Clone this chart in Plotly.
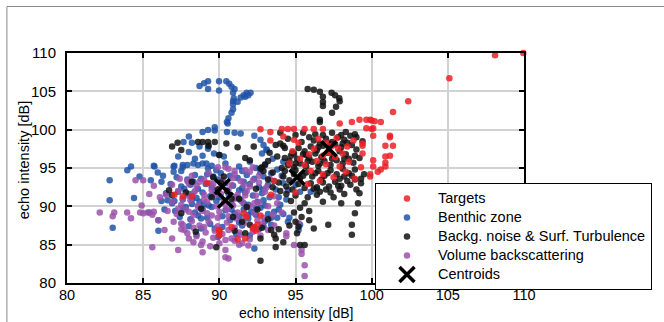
import plotly.graph_objects as go

# ---------------- data ----------------
targets_pts = [
    (109.95, 110.0), (108.1, 109.7), (105.1, 106.7), (102.4, 103.7), (101.4, 102.3),
    (97.9, 100.8), (98.7, 101.0), (99.2, 101.3), (99.65, 101.3), (99.9, 101.3), (100.0, 101.2),
    (100.2, 101.1), (100.6, 101.0), (99.65, 100.2), (100.0, 100.1), (100.1, 100.2), (100.1, 99.2),
    (101.2, 99.2), (101.2, 99.0),
    (99.4, 98.2), (99.4, 97.9), (99.4, 96.9), (100.9, 97.9), (101.4, 97.9), (100.9, 96.5),
    (101.2, 96.6), (100.1, 96.0), (100.9, 95.7), (100.9, 95.2), (100.1, 95.2), (100.6, 94.8),
    (100.4, 94.5), (99.9, 94.2), (99.9, 93.9),
    (92.7, 100.05), (93.35, 99.7), (94.1, 100.1), (94.5, 100.1), (94.9, 100.1), (95.6, 100.1),
    (96.2, 100.1), (96.8, 100.1), (94.9, 98.7), (94.2, 99.1), (93.35, 98.6),
    (96.5, 98.8), (97.0, 98.3), (97.4, 97.9), (97.8, 97.5), (97.2, 97.0), (96.8, 96.6),
    (97.6, 96.4), (98.1, 96.9), (98.4, 97.8), (96.2, 97.5), (95.9, 96.8), (96.4, 95.9),
    (97.0, 95.5), (97.9, 95.2), (98.5, 95.8), (95.6, 95.4), (96.0, 94.6), (96.8, 94.2),
    (97.5, 93.8), (98.3, 94.5), (95.3, 96.2), (94.8, 97.2), (95.2, 98.3), (97.7, 98.9),
    (98.8, 98.6), (96.6, 93.3), (95.8, 92.9), (94.6, 95.6), (98.9, 93.6), (99.3, 95.1),
    (90.0, 86.7), (90.0, 86.2), (91.2, 85.7), (91.7, 85.8), (92.2, 87.1), (92.4, 86.8),
    (92.5, 87.6), (91.6, 89.1), (92.7, 88.8), (87.05, 91.5), (87.6, 91.3), (88.2, 91.3),
    (91.8, 88.6), (92.3, 87.3), (90.8, 87.3), (90.0, 86.9), (93.4, 91.5), (89.2, 93.0),
    (93.6, 93.3), (95.0, 91.8),
]

benthic_pts = [
    (88.7, 105.7), (89.0, 106.05), (89.26, 106.3), (89.26, 105.3), (89.98, 106.3), (89.98, 105.1),
    (90.46, 106.3), (90.65, 106.0), (90.8, 105.6), (91.0, 105.3), (90.9, 104.8), (90.95, 104.1),
    (90.9, 103.7), (90.9, 103.3), (90.9, 102.65), (90.8, 102.2), (90.6, 101.5), (90.5, 101.0),
    (90.55, 100.8), (91.2, 103.65), (91.4, 104.2), (91.6, 104.5), (91.8, 104.8), (92.05, 104.8),
    (91.7, 104.3), (91.9, 104.5),
    (89.7, 100.3), (89.7, 99.9), (89.26, 99.96), (88.9, 99.7), (90.5, 99.7), (91.0, 99.6),
    (91.4, 99.5), (92.3, 99.2), (92.7, 98.7), (92.9, 98.0), (93.1, 97.4), (88.0, 99.1),
    (87.65, 98.4), (88.2, 98.3), (88.7, 97.8), (89.26, 97.8), (89.26, 97.5), (89.65, 96.9),
    (90.0, 96.7), (90.3, 96.5), (88.9, 95.6), (88.6, 95.4), (88.3, 95.6), (89.15, 95.6),
    (89.26, 94.95), (87.9, 95.4), (87.6, 95.1), (87.0, 95.2), (87.0, 94.5), (87.5, 94.6),
    (85.74, 95.2), (85.96, 94.4), (84.2, 95.2), (83.96, 94.7), (84.76, 93.9), (82.8, 93.4),
    (82.8, 90.8), (83.0, 87.2), (84.4, 91.1), (85.7, 95.3), (86.2, 93.2), (85.4, 89.2),
    (86.0, 88.2), (86.0, 86.8), (86.2, 90.7), (86.6, 90.8), (87.05, 90.7), (87.05, 95.3),
    (87.6, 95.4), (93.1, 97.35), (92.8, 96.9), (93.5, 96.2), (93.0, 95.5), (94.2, 95.8),
    (92.4, 95.0),
    (92.3, 84.5), (95.2, 86.9), (95.3, 87.6), (94.5, 88.0), (93.8, 88.5), (94.5, 92.1),
    (95.3, 91.9), (96.0, 91.9), (96.4, 92.3), (95.0, 92.8), (94.0, 90.2), (93.6, 89.3),
    (94.2, 89.0),
    (87.2, 93.8), (87.9, 93.5), (88.4, 94.1), (88.8, 93.6), (89.2, 94.2), (89.6, 93.9),
    (90.1, 94.3), (90.7, 94.0), (91.2, 93.7), (91.8, 94.1), (92.3, 93.6), (92.9, 93.9),
    (93.4, 94.3), (86.8, 92.9), (87.5, 92.6), (88.1, 92.8), (88.6, 92.3), (89.1, 92.9),
    (89.5, 92.5), (90.9, 92.7), (91.5, 92.4), (92.0, 92.9), (92.6, 92.5), (93.2, 92.8),
    (93.7, 92.2), (86.5, 91.7), (87.3, 91.9), (88.0, 91.6), (88.5, 91.1), (88.9, 91.8),
    (89.4, 91.3), (90.6, 91.6), (91.1, 91.2), (91.7, 91.8), (92.2, 91.4), (92.8, 91.7),
    (93.3, 91.2), (86.9, 90.4), (87.6, 90.9), (88.2, 90.3), (88.7, 90.6), (89.3, 90.1),
    (89.8, 90.7), (90.8, 90.3), (91.4, 90.8), (91.9, 90.2), (92.5, 90.6), (93.0, 90.1),
    (86.4, 89.6), (87.1, 89.4), (87.8, 89.9), (88.4, 89.2), (88.9, 89.7), (90.4, 89.5),
    (91.0, 89.1), (91.6, 89.6), (92.1, 89.3), (92.7, 89.8), (93.2, 89.0), (87.4, 88.6),
    (88.1, 88.3), (88.6, 88.8), (89.2, 88.5), (90.7, 88.2), (91.3, 88.7), (91.9, 88.4),
    (92.4, 88.9), (93.0, 88.1), (88.0, 87.4), (88.8, 87.1), (89.4, 87.7), (90.2, 87.3),
    (91.5, 87.5), (92.6, 87.0), (93.4, 87.6), (88.5, 86.3), (89.9, 86.0), (91.1, 86.4),
    (92.0, 86.2), (94.6, 88.5), (93.9, 89.6), (94.4, 90.9), (93.6, 93.3), (94.1, 94.0),
    (88.9, 96.6), (88.4, 96.2), (89.5, 95.3), (90.4, 95.6), (91.3, 95.2), (92.0, 95.8),
    (85.5, 93.4), (86.3, 94.0), (87.3, 96.5), (88.0, 97.1),
    (88.3, 93.2), (89.9, 93.5), (90.4, 93.0), (91.6, 93.2), (92.7, 94.4), (87.7, 92.3),
    (89.7, 91.9), (91.3, 92.1), (92.9, 92.2), (88.2, 90.9), (89.0, 90.3), (90.0, 91.2),
    (91.6, 90.4), (92.9, 90.8), (87.6, 89.8), (89.5, 89.9), (90.8, 89.6), (92.4, 89.7),
    (88.8, 88.4), (90.2, 88.7), (91.9, 88.9), (93.4, 88.5), (89.7, 87.1), (91.3, 87.9),
    (92.9, 87.4), (93.9, 91.2), (94.2, 93.0), (93.8, 94.8), (89.8, 94.7), (91.5, 94.6),
]

backg_pts = [
    (95.8, 105.3), (96.2, 105.2), (96.6, 104.95), (96.8, 104.3), (96.8, 103.6), (96.8, 103.1),
    (96.6, 101.3), (96.6, 101.0), (97.37, 104.8), (97.6, 104.5), (97.87, 104.1), (97.9, 103.7),
    (97.66, 103.0), (97.4, 102.2),
    (86.9, 97.8), (87.26, 98.3), (87.5, 97.35), (88.6, 98.4), (88.9, 98.4), (89.26, 98.4),
    (89.7, 98.4), (89.3, 97.9), (90.46, 98.2), (91.2, 97.7), (90.0, 96.7), (91.7, 96.3),
    (92.0, 96.0), (92.26, 97.8), (92.7, 94.95), (93.0, 95.4), (93.2, 95.9), (93.7, 98.0),
    (94.0, 98.2), (94.3, 97.6), (94.8, 97.0),
    (86.7, 92.1), (86.9, 91.45), (87.5, 89.1), (88.45, 86.7), (89.8, 84.65), (88.8, 89.7),
    (89.5, 91.2), (91.7, 86.5), (92.7, 85.8), (92.7, 82.9), (93.7, 85.8), (93.6, 86.3),
    (93.4, 86.9), (90.9, 88.6), (91.8, 89.9), (92.4, 92.3), (90.1, 93.1), (89.6, 93.8),
    (88.2, 93.2), (87.8, 91.8), (91.3, 91.0),
    (90.5, 92.0), (90.8, 91.0), (91.5, 88.0), (92.0, 87.6), (92.8, 87.2), (93.2, 88.3),
    (93.9, 87.0), (92.5, 89.6), (91.0, 86.8), (93.7, 84.7), (94.2, 85.3), (90.3, 93.9),
    (89.9, 92.2),
    (95.3, 84.96), (95.6, 84.96), (95.2, 87.35), (95.0, 88.0), (95.4, 88.6), (94.9, 89.2),
    (95.3, 89.8), (95.6, 90.4), (94.7, 90.7), (95.1, 86.5), (94.6, 87.5), (96.2, 87.1),
    (95.9, 88.2), (95.9, 89.4),
    (97.15, 87.6), (98.0, 90.4), (98.7, 87.6), (98.7, 86.3), (98.9, 89.1), (99.1, 90.4),
    (99.2, 91.7), (99.3, 93.0), (99.3, 93.6), (98.2, 93.9), (98.6, 92.8), (97.5, 91.2),
    (96.8, 90.6), (96.4, 91.5), (97.9, 92.2),
    (94.2, 93.9), (94.6, 93.4), (94.9, 94.2), (95.3, 93.7), (95.7, 94.4), (96.1, 93.9),
    (96.5, 94.6), (96.9, 94.0), (97.3, 94.7), (97.7, 94.2), (98.1, 94.9), (98.5, 94.3),
    (98.9, 94.8), (94.4, 92.6), (94.8, 92.2), (95.2, 92.9), (95.6, 92.4), (96.0, 93.0),
    (96.4, 92.5), (96.8, 93.1), (97.2, 92.6), (97.6, 93.2), (98.0, 92.7), (98.4, 93.3),
    (94.1, 95.0), (94.5, 95.4), (94.9, 95.1), (95.3, 95.6), (95.7, 95.2), (96.1, 95.8),
    (96.5, 95.3), (96.9, 95.9), (97.3, 95.4), (97.7, 96.0), (98.1, 95.6), (98.5, 96.2),
    (94.3, 96.3), (94.7, 96.6), (95.1, 96.2), (95.5, 96.8), (95.9, 96.3), (96.3, 96.9),
    (96.7, 96.4), (97.1, 97.0), (97.5, 96.6), (97.9, 97.2), (98.3, 96.8), (95.2, 97.6),
    (95.6, 97.2), (96.0, 97.8), (96.4, 97.3), (96.8, 97.9), (97.2, 97.5), (97.6, 98.1),
    (98.0, 97.7), (98.4, 98.3), (96.2, 98.6), (96.6, 98.2), (97.0, 98.8), (97.4, 98.4),
    (97.8, 99.0), (98.2, 98.7), (98.6, 99.2), (98.9, 99.4), (98.0, 99.3), (95.9, 99.0),
    (94.5, 98.8), (95.0, 99.3), (94.3, 94.6), (93.9, 93.1), (93.5, 94.4), (93.8, 96.5),
    (98.8, 95.7), (99.2, 96.3), (99.0, 97.4), (98.7, 98.0), (99.5, 94.2), (98.9, 93.5),
    (94.0, 92.0), (94.4, 91.6), (95.0, 91.4), (95.8, 91.2), (96.6, 91.9), (97.3, 91.8),
    (98.2, 91.6), (99.0, 92.2), (94.2, 97.9), (95.4, 98.4), (96.8, 99.3), (97.4, 99.6),
    (98.3, 99.7), (95.0, 94.7), (95.5, 94.0), (96.3, 94.3), (96.7, 93.5), (97.1, 94.3),
    (97.9, 93.6), (98.7, 94.0), (94.6, 95.9), (95.0, 95.6), (95.8, 95.9), (96.6, 95.6),
    (97.4, 96.2), (98.2, 96.2), (98.9, 96.6), (94.9, 96.9), (95.7, 96.7), (96.5, 97.7),
    (97.3, 98.1), (98.1, 98.2), (96.2, 92.3), (97.0, 92.2), (97.8, 92.7), (93.5, 92.5),
    (93.2, 93.5), (92.9, 94.6), (99.4, 98.5), (99.0, 99.0), (95.5, 99.6), (96.3, 99.4),
    (94.0, 99.6), (92.8, 95.1), (93.3, 97.0),
]

volume_pts = [
    (82.15, 89.2), (83.0, 88.7), (83.1, 89.2), (83.95, 89.2), (84.2, 88.45), (84.8, 89.2),
    (85.0, 89.1), (85.3, 89.2), (85.6, 88.9), (85.7, 89.3), (84.5, 93.4), (85.7, 92.7),
    (85.0, 93.4), (86.0, 88.2), (85.6, 84.65), (86.4, 86.9), (86.9, 85.8), (87.3, 84.3),
    (87.5, 87.75), (87.7, 86.9), (88.0, 85.8), (88.8, 84.96), (88.9, 84.0), (90.4, 84.3),
    (90.4, 83.35), (90.6, 83.2), (91.0, 85.5), (91.5, 85.2), (93.2, 86.9), (93.6, 87.5),
    (94.4, 86.5), (94.4, 86.1), (94.9, 84.96), (95.4, 84.3), (95.4, 83.8), (95.6, 82.3),
    (95.6, 80.9), (95.2, 87.8), (89.9, 95.1), (90.4, 95.1), (90.6, 94.9), (91.0, 94.6),
    (91.7, 94.7), (92.0, 94.5), (92.2, 95.1), (85.4, 91.6), (84.9, 90.1), (86.1, 91.2),
    (87.9, 93.3), (88.5, 92.7), (89.0, 93.5), (89.6, 92.9), (90.2, 93.4), (90.8, 92.8),
    (91.4, 93.3), (92.0, 92.6), (92.6, 93.1), (93.1, 92.5), (87.3, 92.0), (87.9, 91.4),
    (88.4, 92.0), (89.0, 91.5), (89.5, 92.1), (90.1, 91.6), (90.6, 92.2), (91.2, 91.5),
    (91.8, 92.0), (92.4, 91.4), (93.0, 91.9), (93.6, 91.3), (86.9, 90.6), (87.5, 90.2),
    (88.1, 90.8), (88.6, 90.1), (89.2, 90.6), (89.8, 90.0), (90.3, 90.7), (90.9, 90.1),
    (91.5, 90.6), (92.0, 90.0), (92.6, 90.5), (93.2, 90.0), (86.6, 89.4), (87.2, 89.0),
    (87.8, 89.6), (88.3, 88.9), (88.9, 89.4), (89.5, 88.8), (90.0, 89.3), (90.6, 88.7),
    (91.2, 89.2), (91.7, 88.6), (92.3, 89.1), (92.9, 88.5), (87.0, 88.0), (87.6, 87.6),
    (88.2, 88.1), (88.7, 87.5), (89.3, 88.0), (89.9, 87.4), (90.5, 87.9), (91.0, 87.2),
    (91.6, 87.8), (92.2, 87.3), (92.8, 87.7), (87.9, 86.5), (88.5, 86.1), (89.1, 86.6),
    (89.6, 85.9), (90.2, 86.4), (90.8, 85.8), (91.4, 86.3), (92.0, 85.7), (92.7, 86.2),
    (89.4, 84.8), (90.0, 85.2), (91.9, 84.9), (88.3, 85.3), (93.5, 88.9), (93.8, 90.4),
    (94.1, 89.2), (86.5, 91.5), (86.9, 92.8), (87.4, 93.6), (88.2, 94.0), (89.3, 94.3),
    (91.0, 94.2), (92.6, 94.0), (93.3, 93.6),
    (88.0, 93.0), (88.7, 93.2), (89.4, 93.0), (90.0, 92.3), (90.9, 93.7), (91.6, 92.8),
    (92.2, 93.4), (87.6, 91.0), (88.3, 91.7), (89.0, 90.9), (89.7, 91.5), (90.4, 90.2),
    (91.0, 91.0), (91.7, 91.4), (92.3, 90.4), (87.3, 89.7), (88.0, 89.3), (88.6, 89.9),
    (89.2, 89.1), (89.9, 88.5), (90.5, 89.6), (91.1, 88.4), (91.8, 89.9), (92.5, 88.2),
    (87.5, 87.0), (88.3, 87.2), (89.0, 87.3), (89.7, 86.8), (90.6, 86.9), (91.3, 86.6),
    (92.2, 86.7), (88.9, 85.4), (90.4, 85.6), (91.3, 85.0),
]

centroid_pts = [(90.2, 92.6), (90.4, 90.8), (95.1, 93.8), (97.2, 97.5)]

series_names = ["Targets", "Benthic zone", "Backg. noise & Surf. Turbulence",
                "Volume backscattering", "Centroids"]
series_colors = ["rgb(236,32,38)", "rgb(32,84,168)", "rgb(18,18,18)", "rgb(155,82,172)"]
x_ticks = [80, 85, 90, 95, 100, 105, 110]
y_ticks = [80, 85, 90, 95, 100, 105, 110]

FONT = "Liberation Sans, Arial, sans-serif"
LEGEND_TEXT_PX = 14.5


def xs(p):
    return [a for a, _ in p]


def ys(p):
    return [b for _, b in p]


def legend_label(name):
    return '<span style="font-size:%spx">%s</span>' % (LEGEND_TEXT_PX, name)


fig = go.Figure()
# drawing order: benthic, volume, backg, targets, centroids; legend order via legendrank
draw = [(1, benthic_pts), (3, volume_pts), (2, backg_pts), (0, targets_pts)]
for idx, pts in draw:
    fig.add_trace(go.Scatter(
        x=xs(pts), y=ys(pts), mode="markers", name=legend_label(series_names[idx]),
        legendrank=idx + 1, cliponaxis=False,
        marker=dict(size=6.5, color=series_colors[idx], opacity=0.85, line=dict(width=0)),
    ))
fig.add_trace(go.Scatter(
    x=xs(centroid_pts), y=ys(centroid_pts), mode="markers", name=legend_label(series_names[4]),
    legendrank=5,
    marker=dict(symbol="x-thin", size=15, color="black", line=dict(width=3.5, color="black")),
))

axis_common = dict(
    range=[80, 110], showline=True, linecolor="black", linewidth=2, mirror="ticks",
    ticks="inside", ticklen=5, tickwidth=1.5, tickcolor="black",
    showgrid=True, gridcolor="#d2d2d2", gridwidth=1.5, zeroline=False,
)
fig.update_xaxes(tickvals=x_ticks, ticklabelstandoff=-2,
                 tickfont=dict(family=FONT, size=14.5, color="black"), **axis_common)
fig.update_yaxes(tickvals=y_ticks, ticklabelstandoff=6,
                 tickfont=dict(family=FONT, size=15, color="black"), **axis_common)

L, R, T, B = 67, 137, 53, 39
W, H = 664, 322
pw, ph = W - L - R, H - T - B


def px_x(p):
    return (p - L) / pw


def px_y(p):
    return (H - B - p) / ph


fig.update_layout(
    width=W, height=H, margin=dict(l=L, r=R, t=T, b=B, pad=0),
    paper_bgcolor="white", plot_bgcolor="white",
    font=dict(family=FONT, color="black"),
    legend=dict(
        x=px_x(377), y=px_y(183), xanchor="left", yanchor="top",
        bordercolor="black", borderwidth=1, bgcolor="white",
        font=dict(family=FONT, size=12, color="black"),
        itemwidth=52, tracegroupgap=0,
    ),
    annotations=[
        dict(text="echo intensity [dB]", xref="paper", yref="paper",
             x=0.5, y=px_y(322), xanchor="center", yanchor="bottom", borderpad=0,
             showarrow=False, font=dict(family=FONT, size=14, color="black")),
        dict(text="echo intensity [dB]", xref="paper", yref="paper",
             x=px_x(24), y=px_y(160), xanchor="center", yanchor="middle", textangle=-90,
             showarrow=False, font=dict(family=FONT, size=14.5, color="black")),
    ],
    shapes=[
        dict(type="line", xref="paper", yref="paper", x0=px_x(6.5), x1=px_x(670),
             y0=px_y(6.5), y1=px_y(6.5), line=dict(color="#8a8a8a", width=1)),
        dict(type="line", xref="paper", yref="paper", x0=px_x(6.5), x1=px_x(6.5),
             y0=px_y(6.5), y1=px_y(330), line=dict(color="#8a8a8a", width=1)),
    ],
)

fig.write_html(
    "out.html",
    config={"displayModeBar": False},
    post_script="document.body.style.margin='0';document.body.style.overflow='hidden';",
)
